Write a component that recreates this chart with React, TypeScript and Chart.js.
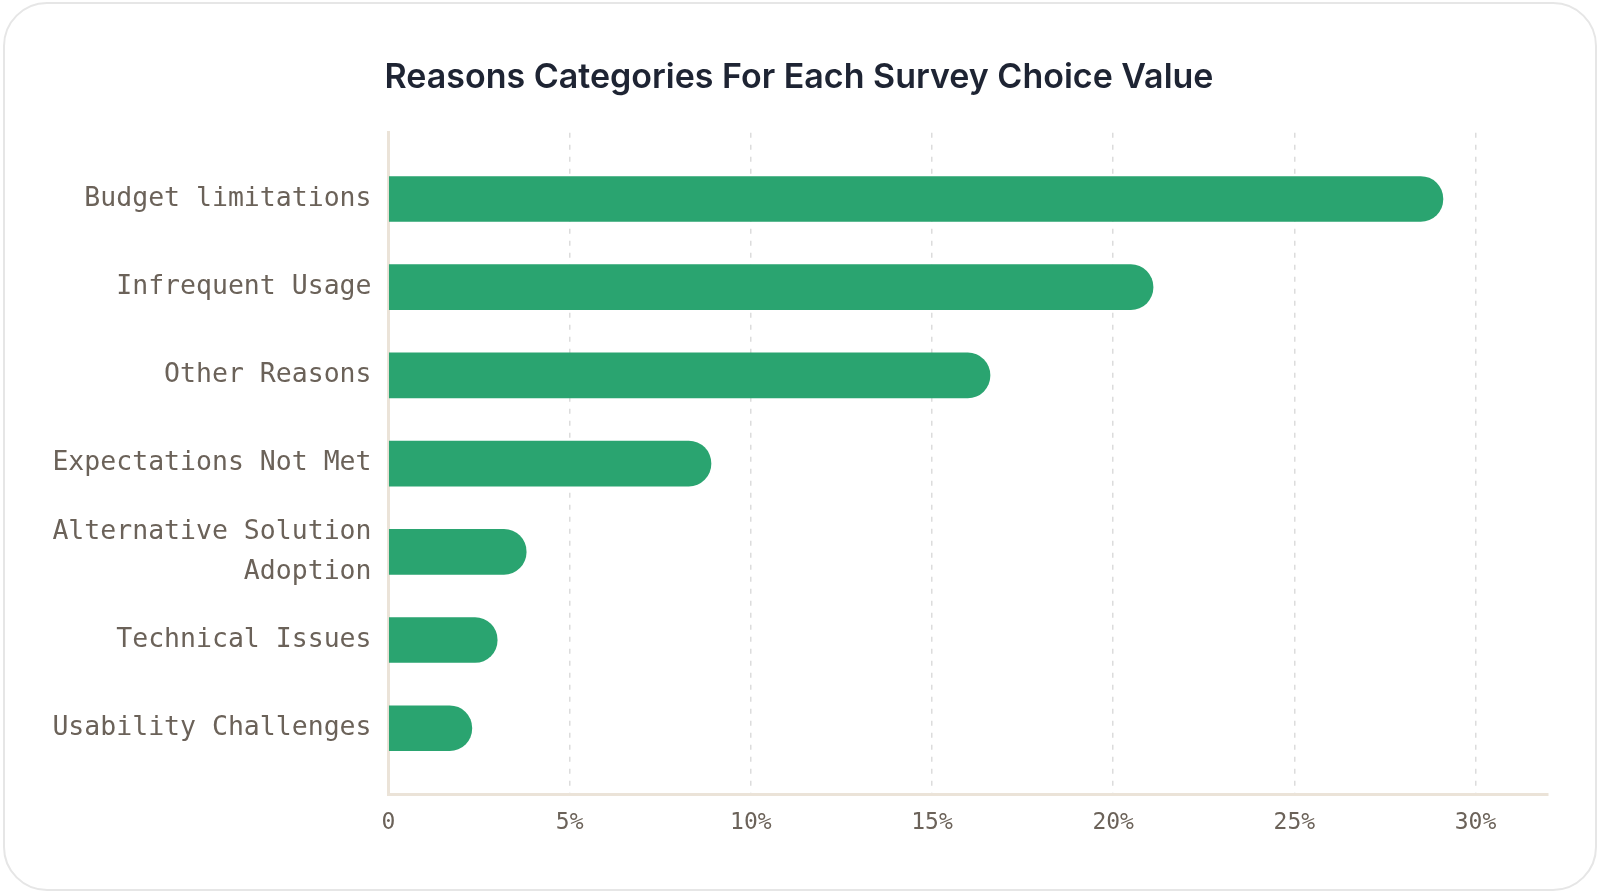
import { useEffect, useRef } from "react"
import { Chart, registerables } from "chart.js"

Chart.register(...registerables)

const categories: (string | string[])[] = [
  "Budget limitations",
  "Infrequent Usage",
  "Other Reasons",
  "Expectations Not Met",
  ["Alternative Solution", "Adoption"],
  "Technical Issues",
  "Usability Challenges",
]
const shares = [29.1, 21.1, 16.6, 8.9, 3.8, 3.0, 2.3]
const xTicks = [0, 5, 10, 15, 20, 25, 30]

const MONO = "'DejaVu Sans Mono', 'Liberation Mono', monospace"

function ReasonsChart() {
  const chartRef = useRef<HTMLCanvasElement>(null)
  const chartInstance = useRef<Chart | null>(null)

  useEffect(() => {
    if (!chartRef.current) return
    if (chartInstance.current) chartInstance.current.destroy()
    const ctx = chartRef.current.getContext("2d")
    if (!ctx) return

    chartInstance.current = new Chart(ctx, {
      type: "bar",
      data: {
        datasets: [
          {
            label: "Share",
            data: shares.map((v, i) => ({ x: v, y: i })),
            backgroundColor: "#2aa470",
            borderSkipped: "start",
            borderRadius: 40,
            barThickness: 45,
          },
        ],
      },
      options: {
        indexAxis: "y",
        animation: false,
        responsive: true,
        maintainAspectRatio: false,
        layout: { padding: { left: 50, right: 52, top: 0, bottom: 44 } },
        scales: {
          x: {
            type: "linear",
            min: 0,
            max: 32,
            afterBuildTicks: (scale: any) => {
              scale.ticks = xTicks.map((v) => ({ value: v }))
            },
            ticks: {
              padding: 15,
              color: "#6b6259",
              font: { family: MONO, size: 23, lineHeight: 1.2 },
              callback: (v: any) => (Number(v) === 0 ? "0" : v + "%"),
            },
            grid: {
              color: "#dcdcdc",
              lineWidth: 1.5,
              drawTicks: false,
            },
            // in v4, border.dash dashes the grid lines
            border: { display: true, color: "#ebe3d8", width: 3, dash: [5, 7] },
          },
          y: {
            type: "linear",
            min: -0.75,
            max: 6.75,
            reverse: true,
            offset: false,
            afterBuildTicks: (scale: any) => {
              scale.ticks = categories.map((_, i) => ({ value: i }))
            },
            afterFit: (scale: any) => {
              scale.width = 338.5
            },
            ticks: {
              autoSkip: false,
              padding: 17,
              color: "#6b6259",
              font: { family: MONO, size: 26.5, lineHeight: 1.5 },
              callback: (v: any) => categories[Number(v)] as any,
            },
            grid: { offset: false, drawOnChartArea: false, drawTicks: false },
            border: { display: true, color: "#ebe3d8", width: 3 },
          },
        },
        plugins: {
          legend: { display: false },
          tooltip: { enabled: false },
          title: {
            display: true,
            text: "Reasons Categories For Each Survey Choice Value",
            color: "#1e2433",
            font: { family: "Inter", size: 34, weight: "600", lineHeight: 1.2 },
            padding: { top: 57, bottom: 35 },
          },
        },
      },
    })

    return () => {
      if (chartInstance.current) {
        chartInstance.current.destroy()
        chartInstance.current = null
      }
    }
  }, [])

  return <canvas ref={chartRef} />
}

export default function App() {
  return (
    <div style={{ position: "fixed", left: 0, top: 0, width: 1600, height: 896, background: "#ffffff" }}>
      <div
        style={{
          position: "absolute",
          left: 3,
          top: 2,
          width: 1594,
          height: 889,
          boxSizing: "border-box",
          border: "2px solid #e6e6e6",
          borderRadius: 44,
        }}
      />
      <div style={{ position: "absolute", left: 0, top: 0, width: 1600, height: 896 }}>
        <ReasonsChart />
      </div>
    </div>
  )
}
